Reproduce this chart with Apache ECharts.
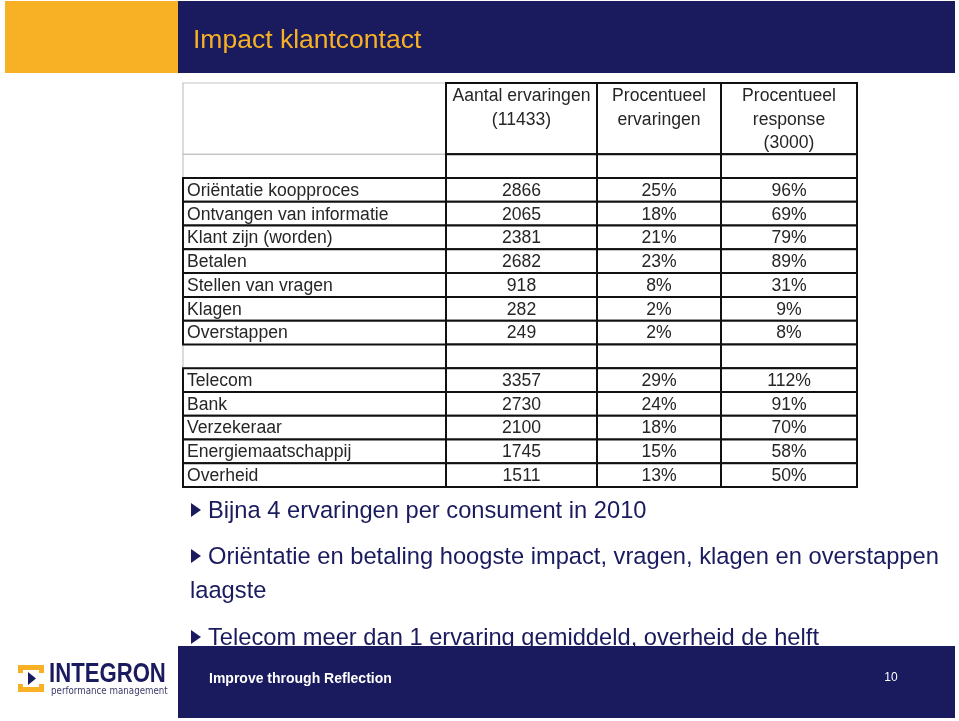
<!DOCTYPE html>
<html>
<head>
<meta charset="utf-8">
<title>Impact klantcontact</title>
<script src="https://cdn.jsdelivr.net/npm/echarts@6/dist/echarts.min.js"></script>
<style>
  html, body { margin: 0; padding: 0; background: #fff; }
  #slide { width: 959px; height: 721px; }
</style>
</head>
<body>
<div id="slide"></div>
<script>
// table data
const headers = ['Aantal ervaringen\n(11433)', 'Procentueel\nervaringen', 'Procentueel\nresponse\n(3000)']
const contactTypes = ['Oriëntatie koopproces', 'Ontvangen van informatie', 'Klant zijn (worden)', 'Betalen', 'Stellen van vragen', 'Klagen', 'Overstappen']
const contactCount = [2866, 2065, 2381, 2682, 918, 282, 249]
const contactPctExp = [25, 18, 21, 23, 8, 2, 2]
const contactPctResp = [96, 69, 79, 89, 31, 9, 8]
const sectors = ['Telecom', 'Bank', 'Verzekeraar', 'Energiemaatschappij', 'Overheid']
const sectorCount = [3357, 2730, 2100, 1745, 1511]
const sectorPctExp = [29, 24, 18, 15, 13]
const sectorPctResp = [112, 91, 70, 58, 50]

const bullets = [
  'Bijna 4 ervaringen per consument in 2010',
  'Oriëntatie en betaling hoogste impact, vragen, klagen en overstappen',
  'Telecom meer dan 1 ervaring gemiddeld, overheid de helft'
]

// layout
const colEdges = [0, 263, 414, 538, 674]
const NAVY = '#1a1a5e'
const ORANGE = '#f8b124'
const tableFont = '17.6px "Liberation Sans", Arial, sans-serif'

// build cells (gray cells first so black borders draw on top)
const cells = []
const addRow = (row, label, vals, gray0) => {
  cells.push({ c: 0, r0: row, r1: row + 1, text: label, gray: gray0 })
  vals.forEach((v, i) => cells.push({ c: i + 1, r0: row, r1: row + 1, text: v, gray: false }))
}
cells.push({ c: 0, r0: 0, r1: 3, text: '', gray: true })
cells.push({ c: 0, r0: 3, r1: 4, text: '', gray: true })
cells.push({ c: 0, r0: 11, r1: 12, text: '', gray: true })
headers.forEach((h, i) => cells.push({ c: i + 1, r0: 0, r1: 3, text: h, gray: false, head: true }))
headers.forEach((h, i) => cells.push({ c: i + 1, r0: 3, r1: 4, text: '', gray: false }))
contactTypes.forEach((name, i) => {
  addRow(4 + i, name, [String(contactCount[i]), contactPctExp[i] + '%', contactPctResp[i] + '%'], false)
})
headers.forEach((h, i) => cells.push({ c: i + 1, r0: 11, r1: 12, text: '', gray: false }))
sectors.forEach((name, i) => {
  addRow(12 + i, name, [String(sectorCount[i]), sectorPctExp[i] + '%', sectorPctResp[i] + '%'], false)
})
const ordered = cells.filter(c => c.gray).concat(cells.filter(c => !c.gray))

const chart = echarts.init(document.getElementById('slide'), null, { renderer: 'canvas' })

const renderCell = (params, api) => {
  const cell = ordered[params.dataIndex]
  const p0 = api.coord([api.value(0), api.value(2)])
  const p1 = api.coord([api.value(1), api.value(3)])
  const rowH = api.size([0, 1])[1]
  const children = [{
    type: 'rect',
    shape: { x: p0[0], y: p0[1], width: p1[0] - p0[0], height: p1[1] - p0[1] },
    style: { fill: '#fff', stroke: cell.gray ? '#c4c4c4' : '#111', lineWidth: cell.gray ? 1.2 : 2 }
  }]
  if (cell.text) {
    const left = cell.c === 0
    children.push({
      type: 'text',
      style: {
        x: left ? p0[0] + 4 : (p0[0] + p1[0]) / 2,
        y: cell.head ? p0[1] + 1 : (p0[1] + p1[1]) / 2 + 1,
        text: cell.text,
        font: tableFont,
        fill: '#262626',
        align: left ? 'left' : 'center',
        verticalAlign: cell.head ? 'top' : 'middle',
        lineHeight: rowH
      }
    })
  }
  return { type: 'group', children }
}

const bulletGraphics = []
const bulletLines = [
  { y: 510, text: bullets[0], tri: true },
  { y: 556, text: bullets[1], tri: true },
  { y: 590, text: 'laagste', tri: false, x: 190 },
  { y: 637, text: bullets[2], tri: true }
]
bulletLines.forEach(b => {
  if (b.tri) {
    bulletGraphics.push({
      type: 'polygon', z: 5,
      shape: { points: [[191, b.y - 7], [201, b.y], [191, b.y + 7]] },
      style: { fill: NAVY }
    })
  }
  bulletGraphics.push({
    type: 'text', z: 5,
    style: {
      x: b.x || 208, y: b.y + 1, text: b.text,
      font: '23.7px "Liberation Sans", Arial, sans-serif',
      fill: NAVY, verticalAlign: 'middle'
    }
  })
})

const option = {
  animation: false,
  backgroundColor: '#fff',
  grid: { left: 183, right: 102, top: 83, bottom: 234 },
  xAxis: { type: 'value', min: 0, max: 674, show: false },
  yAxis: { type: 'value', min: 0, max: 17, inverse: true, show: false },
  graphic: [
    // header bar
    { type: 'rect', shape: { x: 5, y: 1, width: 173, height: 72 }, style: { fill: ORANGE } },
    { type: 'rect', shape: { x: 178, y: 1, width: 777, height: 72 }, style: { fill: NAVY } },
    {
      type: 'text', style: {
        x: 193, y: 41, text: 'Impact klantcontact',
        font: '26.5px "Liberation Sans", Arial, sans-serif', fill: ORANGE, verticalAlign: 'middle'
      }
    },
    ...bulletGraphics,
    // footer
    { type: 'rect', z: 10, shape: { x: 0, y: 646, width: 178, height: 75 }, style: { fill: '#fff' } },
    { type: 'rect', z: 10, shape: { x: 178, y: 646, width: 777, height: 72 }, style: { fill: NAVY } },
    {
      type: 'text', z: 11, style: {
        x: 209, y: 679, text: 'Improve through Reflection',
        font: 'bold 14px "Liberation Sans", Arial, sans-serif', fill: '#fff', verticalAlign: 'middle'
      }
    },
    {
      type: 'text', z: 11, style: {
        x: 891, y: 678, text: '10',
        font: '12px "Liberation Sans", Arial, sans-serif', fill: '#fff', align: 'center', verticalAlign: 'middle'
      }
    },
    // logo
    { type: 'rect', z: 11, shape: { x: 18, y: 665, width: 26, height: 27 }, style: { fill: ORANGE } },
    { type: 'rect', z: 11, shape: { x: 23, y: 670, width: 16, height: 17 }, style: { fill: '#fff' } },
    { type: 'rect', z: 11, shape: { x: 18, y: 673, width: 5, height: 11 }, style: { fill: '#fff' } },
    { type: 'rect', z: 11, shape: { x: 39, y: 673, width: 5, height: 11 }, style: { fill: '#fff' } },
    { type: 'polygon', z: 12, shape: { points: [[28, 672], [36, 678.5], [28, 685]] }, style: { fill: NAVY } },
    {
      type: 'text', z: 11, x: 49, y: 675, scaleX: 0.82,
      style: {
        x: 0, y: 0, text: 'INTEGRON',
        font: 'bold 27px "Liberation Sans", Arial, sans-serif', fill: NAVY, verticalAlign: 'middle'
      }
    },
    {
      type: 'text', z: 11, x: 51, y: 691, scaleX: 0.87,
      style: {
        x: 0, y: 0, text: 'performance management',
        font: '10px "DejaVu Sans", Arial, sans-serif', fill: '#3a3a6a', verticalAlign: 'middle'
      }
    }
  ],
  series: [{
    type: 'custom',
    coordinateSystem: 'cartesian2d',
    renderItem: renderCell,
    encode: { x: [0, 1], y: [2, 3] },
    data: ordered.map(c => [colEdges[c.c], colEdges[c.c + 1], c.r0, c.r1]),
    clip: false
  }]
}

chart.setOption(option)
window.addEventListener('resize', () => chart.resize())
</script>
</body>
</html>
